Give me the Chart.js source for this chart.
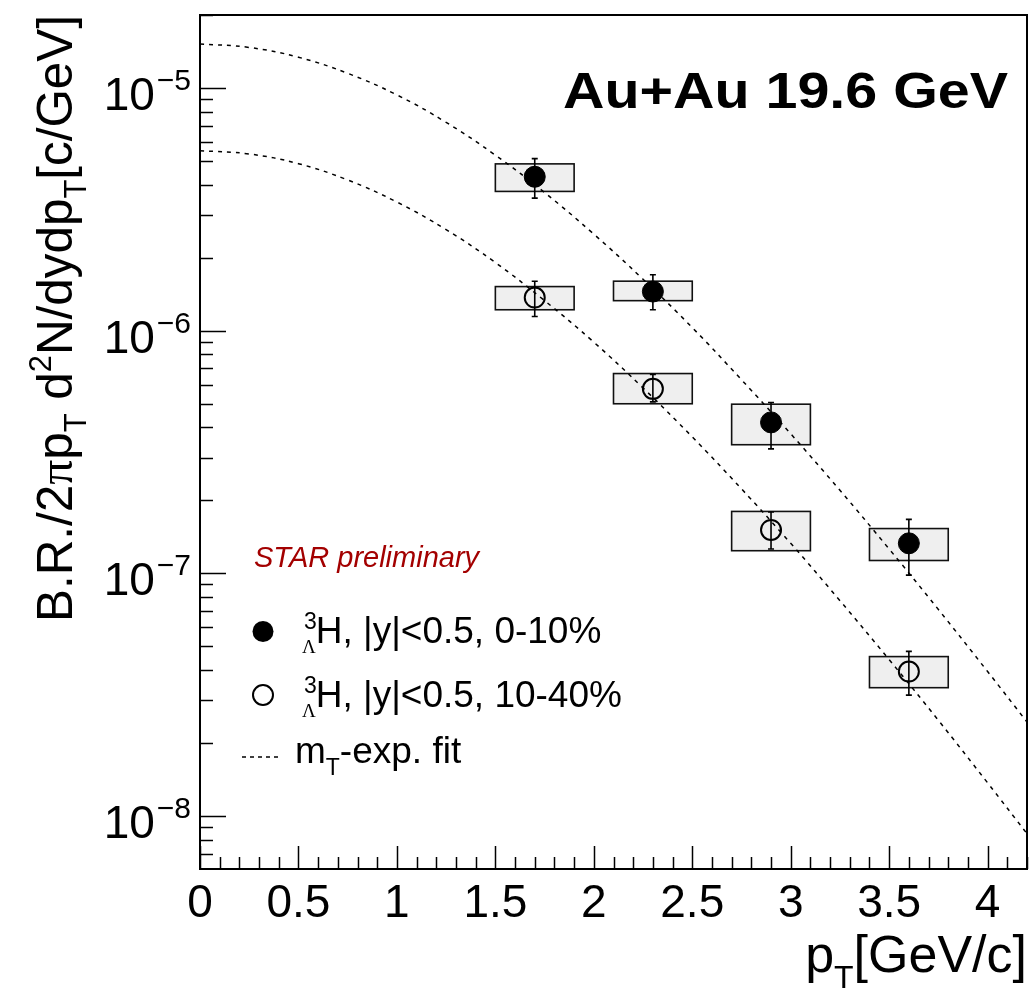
<!DOCTYPE html>
<html>
<head>
<meta charset="utf-8">
<script src="https://cdn.jsdelivr.net/npm/chart.js@4/dist/chart.umd.min.js"></script>
<style>
  html, body { margin: 0; padding: 0; background: #fff; }
  canvas { display: block; }
</style>
</head>
<body>
<canvas id="spectra" width="1030" height="991"></canvas>
<script>
// hypertriton pT spectra, Au+Au 19.6 GeV
const ptBins = [1.7, 2.3, 2.9, 3.6];
const binHalfWidth = [0.2, 0.2, 0.2, 0.2];

// 0-10% centrality
const central = [4.31e-6, 1.45e-6, 4.19e-7, 1.33e-7];
const centralStatLow = [3.52e-6, 1.22e-6, 3.26e-7, 9.84e-8];
const centralStatHigh = [5.12e-6, 1.70e-6, 5.06e-7, 1.67e-7];
const centralSysLow = [3.75e-6, 1.33e-6, 3.39e-7, 1.13e-7];
const centralSysHigh = [4.87e-6, 1.60e-6, 4.98e-7, 1.53e-7];

// 10-40% centrality
const midCentral = [1.37e-6, 5.76e-7, 1.51e-7, 3.94e-8];
const midStatLow = [1.145e-6, 5.09e-7, 1.26e-7, 3.15e-8];
const midStatHigh = [1.60e-6, 6.60e-7, 1.79e-7, 4.77e-8];
const midSysLow = [1.22e-6, 5.00e-7, 1.24e-7, 3.38e-8];
const midSysHigh = [1.52e-6, 6.66e-7, 1.80e-7, 4.54e-8];

// mT-exponential fit curves
const fitPt = [0, 0.25, 0.5, 0.75, 1, 1.25, 1.5, 1.75, 2, 2.25, 2.5, 2.75, 3, 3.25, 3.5, 3.75, 4, 4.2];
const fitCentral = [1.52e-5, 1.47e-5, 1.34e-5, 1.15e-5, 9.37e-6, 7.22e-6, 5.29e-6, 3.71e-6, 2.50e-6, 1.63e-6,
  1.03e-6, 6.28e-7, 3.76e-7, 2.20e-7, 1.26e-7, 7.10e-8, 3.94e-8, 2.44e-8];
const fitMidCentral = [5.52e-6, 5.35e-6, 4.88e-6, 4.18e-6, 3.39e-6, 2.61e-6, 1.91e-6, 1.33e-6, 8.97e-7, 5.81e-7,
  3.65e-7, 2.23e-7, 1.33e-7, 7.72e-8, 4.41e-8, 2.48e-8, 1.37e-8, 8.46e-9];

// axis ticks
const xTickValues = [0, 0.5, 1, 1.5, 2, 2.5, 3, 3.5, 4];
const xTickLabels = ['0', '0.5', '1', '1.5', '2', '2.5', '3', '3.5', '4'];
const yTickExponents = [-8, -7, -6, -5];

const SANS = '"Liberation Sans", Arial, Helvetica, sans-serif';
const SERIF = '"Liberation Serif", "Times New Roman", serif';

function toPoints(xs, ys) {
  return xs.map((x, i) => ({ x: x, y: ys[i] }));
}

// draw a run of text pieces (sub/superscripts) one after another
function richText(ctx, parts, x, y, align) {
  let w = 0;
  parts.forEach(p => {
    ctx.font = (p.style || '') + ' ' + p.size + 'px ' + (p.family || SANS);
    w += p.noAdvance ? 0 : ctx.measureText(p.t).width;
  });
  let cx = align === 'right' ? x - w : x;
  parts.forEach(p => {
    ctx.font = (p.style || '') + ' ' + p.size + 'px ' + (p.family || SANS);
    ctx.fillText(p.t, cx + (p.dx || 0), y + (p.dy || 0));
    if (!p.noAdvance) cx += ctx.measureText(p.t).width;
  });
  return w;
}

function drawBoxes(ctx, x, y, sysLow, sysHigh) {
  ptBins.forEach((pt, i) => {
    const x0 = x.getPixelForValue(pt - binHalfWidth[i]);
    const x1 = x.getPixelForValue(pt + binHalfWidth[i]);
    const y0 = y.getPixelForValue(sysHigh[i]);
    const y1 = y.getPixelForValue(sysLow[i]);
    ctx.fillStyle = '#efefef';
    ctx.fillRect(x0, y0, x1 - x0, y1 - y0);
    ctx.strokeStyle = '#111';
    ctx.lineWidth = 1.6;
    ctx.strokeRect(x0, y0, x1 - x0, y1 - y0);
  });
}

function drawErrors(ctx, x, y, statLow, statHigh) {
  ctx.strokeStyle = '#000';
  ctx.lineWidth = 1.6;
  ptBins.forEach((pt, i) => {
    const px = x.getPixelForValue(pt);
    const y0 = y.getPixelForValue(statHigh[i]);
    const y1 = y.getPixelForValue(statLow[i]);
    ctx.beginPath();
    ctx.moveTo(px, y0); ctx.lineTo(px, y1);
    ctx.moveTo(px - 3, y0); ctx.lineTo(px + 3, y0);
    ctx.moveTo(px - 3, y1); ctx.lineTo(px + 3, y1);
    ctx.stroke();
  });
}

const rootFrame = {
  id: 'rootFrame',
  beforeDatasetsDraw(chart) {
    const { ctx, scales: { x, y } } = chart;
    ctx.save();
    drawBoxes(ctx, x, y, centralSysLow, centralSysHigh);
    drawBoxes(ctx, x, y, midSysLow, midSysHigh);
    drawErrors(ctx, x, y, centralStatLow, centralStatHigh);
    drawErrors(ctx, x, y, midStatLow, midStatHigh);
    ctx.restore();
  },
  afterDraw(chart) {
    const { ctx, chartArea: a, scales: { x, y } } = chart;
    ctx.save();
    ctx.fillStyle = '#000';
    ctx.strokeStyle = '#000';

    // frame
    ctx.lineWidth = 2;
    ctx.strokeRect(a.left, a.top, a.right - a.left, a.bottom - a.top);

    // y ticks, decades and 2..9 in between
    ctx.lineWidth = 1.5;
    ctx.beginPath();
    for (let e = -9; e <= -4; e++) {
      for (let m = 1; m <= 9; m++) {
        const v = Number(m + 'e' + e);
        if (v < y.min || v > y.max) continue;
        const py = Math.round(y.getPixelForValue(v)) + 0.5;
        ctx.moveTo(a.left, py);
        ctx.lineTo(a.left + (m === 1 ? 26 : 13), py);
      }
    }
    // x ticks every 0.1
    for (let i = 0; i <= 42; i++) {
      const px = Math.round(x.getPixelForValue(i / 10)) + 0.5;
      ctx.moveTo(px, a.bottom);
      ctx.lineTo(px, a.bottom - (i % 5 === 0 ? 23 : 12));
    }
    ctx.stroke();

    // tick labels
    ctx.textBaseline = 'alphabetic';
    ctx.textAlign = 'left';
    yTickExponents.forEach(e => {
      const py = y.getPixelForValue(Math.pow(10, e));
      richText(ctx, [
        { t: '10', size: 46 },
        { t: '\u2212' + Math.abs(e), size: 30, dy: -20, dx: 2 }
      ], 189, py + 22, 'right');
    });
    ctx.font = '46px ' + SANS;
    ctx.textAlign = 'center';
    xTickValues.forEach((v, i) => {
      ctx.fillText(xTickLabels[i], x.getPixelForValue(v), 917);
    });
    ctx.textAlign = 'left';

    // x axis title
    richText(ctx, [
      { t: 'p', size: 52 },
      { t: 'T', size: 32, dy: 16 },
      { t: '[GeV/c]', size: 52 }
    ], 1027, 972, 'right');

    // y axis title, rotated
    const yTitle = [
      { t: 'B.R./2', size: 48 },
      { t: '\u03c0', size: 48, family: SERIF },
      { t: 'p', size: 48 },
      { t: 'T', size: 30, dy: 14 },
      { t: ' d', size: 48 },
      { t: '2', size: 30, dy: -20 },
      { t: 'N/dydp', size: 48 },
      { t: 'T', size: 30, dy: 14 },
      { t: '[c/GeV]', size: 48 }
    ];
    ctx.save();
    ctx.translate(72, 622);
    ctx.rotate(-Math.PI / 2);
    ctx.globalAlpha = 0;
    const yw = richText(ctx, yTitle, 0, 0, 'left');
    ctx.globalAlpha = 1;
    const k = 607 / yw;
    ctx.scale(k, k);
    richText(ctx, yTitle, 0, 0, 'left');
    ctx.restore();

    // collision system label
    ctx.save();
    ctx.font = 'bold 50px ' + SANS;
    const tw = ctx.measureText('Au+Au 19.6 GeV').width;
    ctx.translate(1008, 108);
    ctx.scale(445 / tw, 1);
    ctx.textAlign = 'right';
    ctx.fillText('Au+Au 19.6 GeV', 0, 0);
    ctx.restore();

    // preliminary tag
    ctx.fillStyle = '#a30000';
    ctx.font = 'italic 29px ' + SANS;
    ctx.fillText('STAR preliminary', 254, 567);
    ctx.fillStyle = '#000';

    // legend
    ctx.beginPath();
    ctx.arc(263, 631.5, 10.5, 0, Math.PI * 2);
    ctx.fill();
    ctx.lineWidth = 2;
    ctx.beginPath();
    ctx.arc(263, 695, 10, 0, Math.PI * 2);
    ctx.stroke();
    [[643, '0-10%'], [706.5, '10-40%']].forEach(([by, cent]) => {
      richText(ctx, [
        { t: '3', size: 23, dx: 2, dy: -14, noAdvance: true },
        { t: '\u039b', size: 19, family: SERIF, dy: 10 },
        { t: 'H, |y|<0.5, ' + cent, size: 37 }
      ], 302, by, 'left');
    });
    ctx.lineWidth = 1.5;
    ctx.setLineDash([4, 4]);
    ctx.beginPath();
    ctx.moveTo(242, 757);
    ctx.lineTo(281, 757);
    ctx.stroke();
    ctx.setLineDash([]);
    richText(ctx, [
      { t: 'm', size: 37 },
      { t: 'T', size: 23, dy: 12 },
      { t: '-exp. fit', size: 37 }
    ], 295, 763, 'left');

    ctx.restore();
  }
};

new Chart(document.getElementById('spectra'), {
  type: 'scatter',
  data: {
    datasets: [
      {
        label: '0-10%',
        data: toPoints(ptBins, central),
        pointRadius: 10.5,
        pointBackgroundColor: '#000',
        pointBorderColor: '#000',
        pointBorderWidth: 1,
        order: 0
      },
      {
        label: '10-40%',
        data: toPoints(ptBins, midCentral),
        pointRadius: 10,
        pointBackgroundColor: 'rgba(0,0,0,0)',
        pointBorderColor: '#000',
        pointBorderWidth: 2,
        order: 1
      },
      {
        label: 'fit 0-10%',
        data: toPoints(fitPt, fitCentral),
        showLine: true,
        tension: 0.4,
        borderColor: '#000',
        borderWidth: 1.5,
        borderDash: [4, 5],
        pointRadius: 0,
        order: 2
      },
      {
        label: 'fit 10-40%',
        data: toPoints(fitPt, fitMidCentral),
        showLine: true,
        tension: 0.4,
        borderColor: '#000',
        borderWidth: 1.5,
        borderDash: [4, 5],
        pointRadius: 0,
        order: 3
      }
    ]
  },
  options: {
    responsive: false,
    animation: false,
    devicePixelRatio: 1,
    layout: { autoPadding: false, padding: { left: 200, top: 15, right: 3, bottom: 122 } },
    plugins: { legend: { display: false }, tooltip: { enabled: false } },
    scales: {
      x: { type: 'linear', min: 0, max: 4.2, display: false },
      y: { type: 'logarithmic', min: 6.05e-9, max: 2.0e-5, display: false }
    }
  },
  plugins: [rootFrame]
});
</script>
</body>
</html>
